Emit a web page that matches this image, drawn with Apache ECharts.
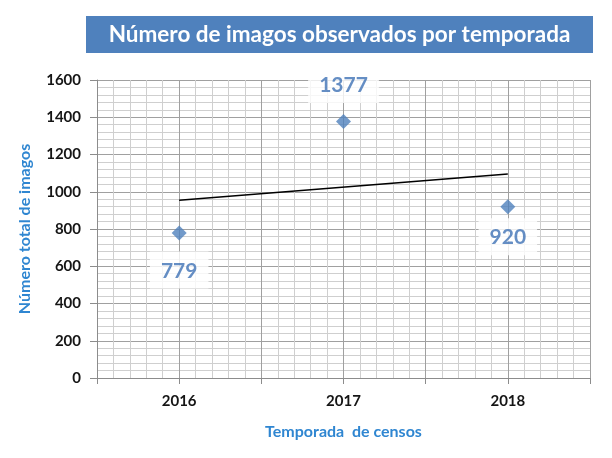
<!DOCTYPE html>
<html><head><meta charset="utf-8">
<script src="https://cdn.jsdelivr.net/npm/echarts@6/dist/echarts.min.js"></script>
<style>html,body{margin:0;padding:0;background:#fff}#c{width:612px;height:458px}</style>
</head><body><div id="c"></div>
<script>
const years = [2016, 2017, 2018];
const imagos = [779, 1377, 920];
const trendYears = [2016, 2018];
const trendValues = [955, 1095];
const yTicks = [0, 200, 400, 600, 800, 1000, 1200, 1400, 1600];

const labelStyles = [
  {position: 'bottom', distance: 11},
  {position: 'top', distance: 11},
  {position: 'bottom', distance: 4}
];

const chart = echarts.init(document.getElementById('c'));
const FONT = 'Lato, "Open Sans", sans-serif';
chart.setOption({
  animation: false,
  graphic: [
    {type: 'rect', left: 86, top: 16, shape: {width: 507, height: 37}, style: {fill: '#4F81BD'}, z: 10},
    {type: 'text', x: 339.5, y: 34.5, style: {text: 'Número de imagos observados por temporada', fill: '#fff', font: 'bold 22.5px ' + FONT, textAlign: 'center', textVerticalAlign: 'middle'}, z: 11}
  ],
  grid: {left: 97, right: 22, top: 80, bottom: 80},
  xAxis: {
    type: 'value', min: 2015.5, max: 2018.5, interval: 0.5,
    name: 'Temporada  de censos', nameLocation: 'middle', nameGap: 46,
    nameTextStyle: {color: '#2F86D1', fontFamily: FONT, fontWeight: 'bold', fontSize: 16},
    axisLine: {show: true, lineStyle: {color: '#8C8C8C'}},
    axisTick: {show: true, length: 6, lineStyle: {color: '#8C8C8C'}},
    minorTick: {show: false, splitNumber: 5},
    axisLabel: {color: '#151515', fontFamily: FONT, fontWeight: 'bold', fontSize: 15, margin: 16,
      formatter: v => (Math.abs(v - Math.round(v)) < 1e-6 && years.indexOf(Math.round(v)) >= 0) ? String(Math.round(v)) : ''},
    splitLine: {show: true, lineStyle: {color: '#A0A0A0'}},
    minorSplitLine: {show: true, lineStyle: {color: '#CFCFCF'}}
  },
  yAxis: {
    type: 'value', min: yTicks[0], max: yTicks[yTicks.length - 1], interval: 200,
    name: 'Número total de imagos', nameLocation: 'middle', nameGap: 64,
    nameTextStyle: {color: '#2F86D1', fontFamily: FONT, fontWeight: 'bold', fontSize: 16},
    axisLine: {show: true, lineStyle: {color: '#8C8C8C'}},
    axisTick: {show: true, length: 7, lineStyle: {color: '#8C8C8C'}},
    minorTick: {show: false, splitNumber: 5},
    axisLabel: {color: '#151515', fontFamily: FONT, fontWeight: 'bold', fontSize: 15, margin: 16,
      formatter: v => String(v)},
    splitLine: {show: true, lineStyle: {color: '#A0A0A0'}},
    minorSplitLine: {show: true, lineStyle: {color: '#CFCFCF'}}
  },
  series: [
    {
      type: 'line', data: trendYears.map((y, i) => [y, trendValues[i]]),
      symbol: 'none', lineStyle: {color: '#000', width: 1.5}, z: 3
    },
    {
      type: 'scatter', symbol: 'diamond', symbolSize: 15,
      itemStyle: {color: '#4F81BD'}, z: 4,
      data: years.map((y, i) => ({
        value: [y, imagos[i]],
        label: {show: true, position: labelStyles[i].position, distance: labelStyles[i].distance,
          formatter: p => String(p.value[1]),
          color: '#3F72B5', fontFamily: FONT, fontWeight: 'bold', fontSize: 21,
          backgroundColor: '#fff', padding: [9, 11, 7, 11]}
      }))
    }
  ]
});
</script></body></html>
